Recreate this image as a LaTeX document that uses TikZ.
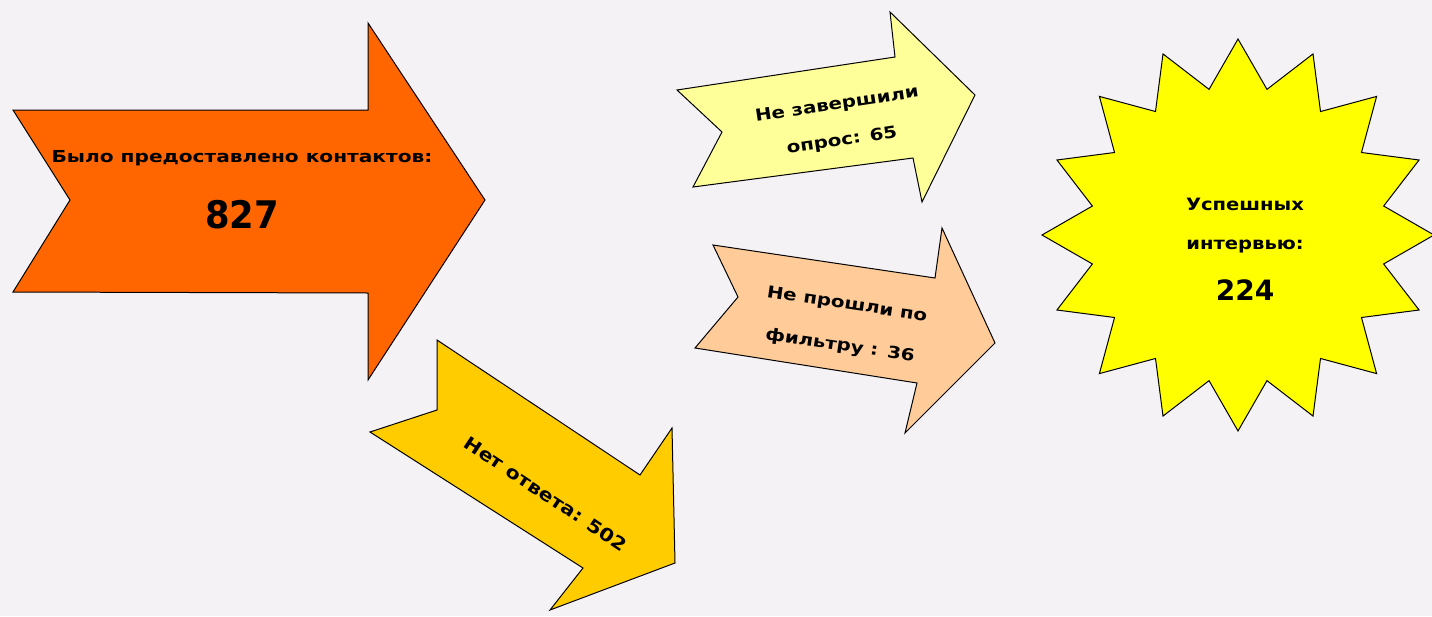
\documentclass[tikz,border=0pt]{standalone}
\usepackage{fontspec}
\setmainfont{DejaVu Sans}
\usetikzlibrary{shapes.geometric}
\definecolor{bgc}{RGB}{245,242,245}
\definecolor{orangec}{RGB}{255,102,0}
\definecolor{lyellow}{RGB}{255,255,153}
\definecolor{peach}{RGB}{255,204,153}
\definecolor{goldc}{RGB}{255,204,0}
\definecolor{staryellow}{RGB}{255,255,0}
\newcommand{\fs}[1]{\fontsize{#1}{#1}\selectfont}
\begin{document}
\begin{tikzpicture}[x=1pt,y=-1pt,
  arrowshape/.style={draw=black, line width=1pt, line join=miter},
  lbl/.style={font=\bfseries, inner sep=0pt, text=black}]
\fill[bgc] (0,0) rectangle (1432,616);
\useasboundingbox (0,0) rectangle (1432,616);

% orange arrow
\draw[arrowshape, fill=orangec] (13,110) -- (368,110) -- (368,23) -- (485,200) -- (368,380) -- (368,293) -- (13,292) -- (70,200) -- cycle;
\node[lbl, font=\bfseries\fs{16.5}, xscale=1.22] (o1) at (242,158) {Было предоставлено контактов:};
\node[lbl, font=\bfseries\fs{38}, xscale=0.93] (o2) at (242,215) {827};

% light yellow arrow
\draw[arrowshape, fill=lyellow] (677,90) -- (895,57) -- (890,12) -- (975,95) -- (922,202) -- (913,158) -- (693,187) -- (722,132) -- cycle;
\node[lbl, font=\bfseries\fs{16.5}, rotate=8.6, xscale=1.2] (y1) at (837,105) {Не завершили};
\node[lbl, font=\bfseries\fs{16.5}, rotate=8.6, xscale=1.2] (y2) at (842,141) {опрос: 65};

% peach arrow
\draw[arrowshape, fill=peach] (713,245) -- (935,278) -- (942,228) -- (995,343) -- (905,433) -- (917,383) -- (695,348) -- (738,297) -- cycle;
\node[lbl, font=\bfseries\fs{16.5}, rotate=-8.5, xscale=1.2] (p1) at (847,305) {Не прошли по};
\node[lbl, font=\bfseries\fs{16.5}, rotate=-8.5, xscale=1.2] (p2) at (840,346) {фильтру : 36};

% gold arrow
\draw[arrowshape, fill=goldc] (437,340) -- (640,475) -- (672,428) -- (675,563) -- (550,610) -- (583,568) -- (370,432) -- (437,410) -- cycle;
\node[lbl, font=\bfseries\fs{18}, rotate=-33.6, xscale=1.15] (g1) at (546,494) {Нет ответа: 502};

% star
\node[star, star points=16, star point ratio=1.32, minimum size=392pt, inner sep=0pt, draw=black, line width=1pt, fill=staryellow] (star) at (1238,235) {};
\node[lbl, font=\bfseries\fs{17}, xscale=1.15] (s1) at (1245,204) {Успешных};
\node[lbl, font=\bfseries\fs{17}, xscale=1.15] (s2) at (1245,247) {интервью:};
\node[lbl, font=\bfseries\fs{28}] (s3) at (1245,290) {224};
\end{tikzpicture}
\end{document}
